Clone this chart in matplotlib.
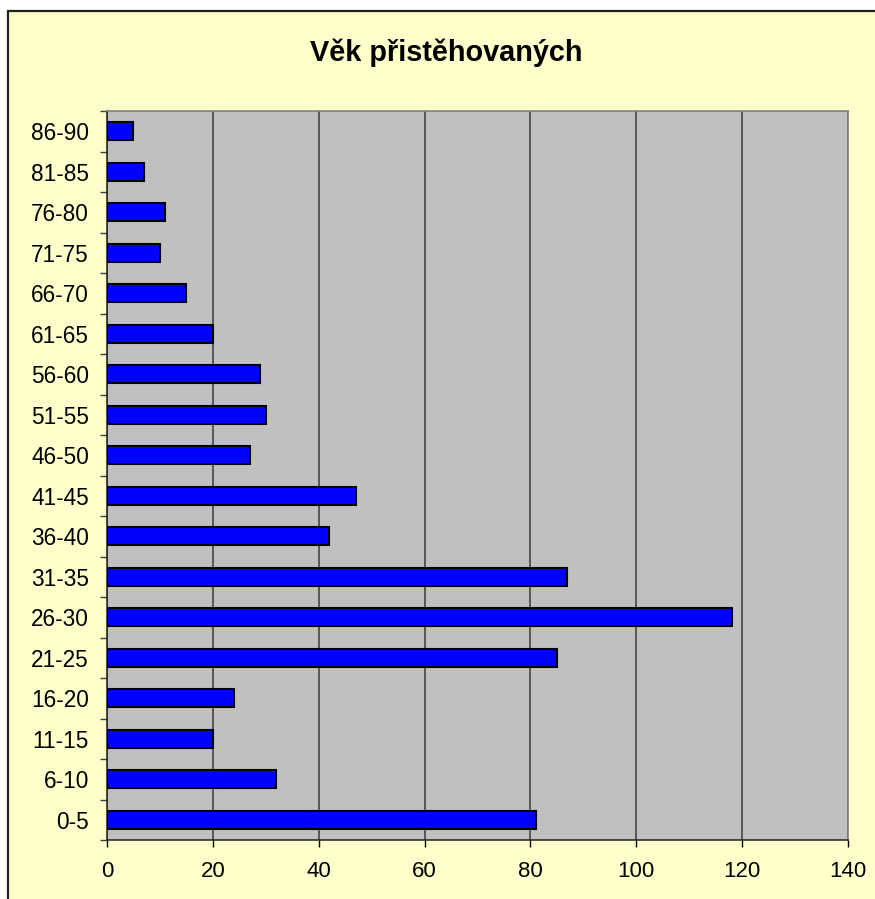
import matplotlib
matplotlib.use('Agg')
import matplotlib.pyplot as plt
from matplotlib.patches import Rectangle
import numpy as np

# ---- data (bottom to top) ----
age_groups = ['0-5', '6-10', '11-15', '16-20', '21-25', '26-30', '31-35', '36-40',
              '41-45', '46-50', '51-55', '56-60', '61-65', '66-70', '71-75',
              '76-80', '81-85', '86-90']
counts = [81, 32, 20, 24, 85, 118, 87, 42, 47, 27, 30, 29, 20, 15, 10, 11, 7, 5]
x_ticks = [0, 20, 40, 60, 80, 100, 120, 140]
title = 'Věk přistěhovaných'
# ------------------------------

plt.rcParams['font.family'] = ['Liberation Sans', 'DejaVu Sans']

W, H = 875, 899
fig = plt.figure(figsize=(W / 100, H / 100), dpi=100, facecolor='white')

# chart area (light yellow with black frame, cut off on right/bottom)
frame = Rectangle((7.5 / W, -0.05), 1.1, (H - 11) / H + 0.05,
                  transform=fig.transFigure, facecolor='#FFFFCC',
                  edgecolor='#202020', linewidth=1.6, zorder=-5)
fig.patches.append(frame)

ax = fig.add_axes([107 / W, 59 / H, 741 / W, 729 / H])
ax.set_zorder(2)
ax.set_facecolor('#C0C0C0')

y = np.arange(len(age_groups))
ax.barh(y, counts, height=0.45, color='#0000FF', edgecolor='black',
        linewidth=1.5, zorder=3)

ax.set_xlim(0, 140)
ax.set_ylim(-0.5, len(age_groups) - 0.5)

ax.set_xticks(x_ticks)
ax.set_xticklabels([str(t) for t in x_ticks])
ax.set_yticks(y)
ax.set_yticklabels(age_groups)
ax.set_yticks(np.arange(-0.5, len(age_groups)), minor=True)

ax.tick_params(axis='y', which='major', length=0, pad=13, labelsize=16.3)
ax.tick_params(axis='y', which='minor', length=5, width=1, color='#404040',
               direction='out')
ax.tick_params(axis='x', which='major', length=5, width=1, color='black',
               direction='out', pad=10, labelsize=16)

ax.xaxis.grid(True, color='#3a3a3a', linewidth=1.1, zorder=1)
ax.set_axisbelow(True)

for s in ['top', 'right']:
    ax.spines[s].set_color('#808080')
    ax.spines[s].set_linewidth(1.2)
for s in ['left', 'bottom']:
    ax.spines[s].set_color('#202020')
    ax.spines[s].set_linewidth(1.1)

fig.text(446 / W, 1 - 53 / H, title, ha='center', va='center',
         fontsize=20.8, fontweight='bold', zorder=3)

fig.savefig('out.png', dpi=100, facecolor='white')
